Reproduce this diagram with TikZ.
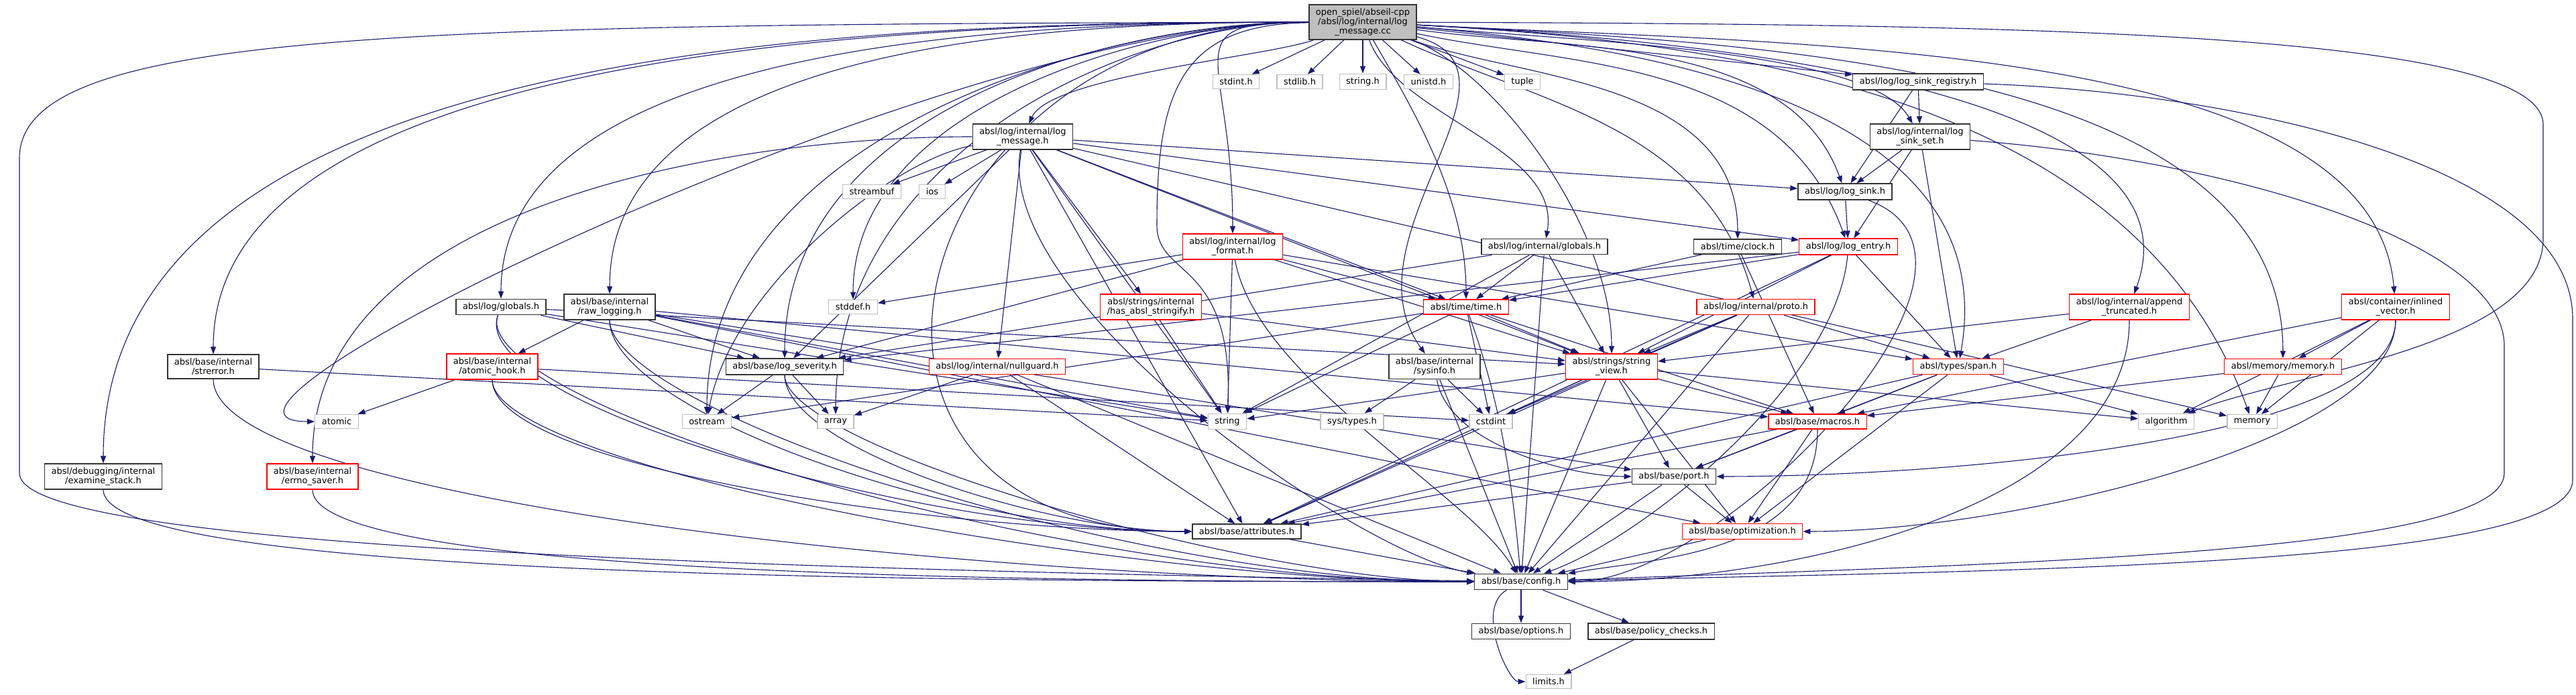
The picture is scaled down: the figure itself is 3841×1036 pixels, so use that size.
\documentclass[tikz,border=0pt]{standalone}
\usepackage{fontspec}
\setmainfont{DejaVu Sans}
\usepackage{tikz}
\usetikzlibrary{arrows.meta,backgrounds}
\definecolor{edgeblue}{HTML}{191970}
\definecolor{sysgray}{HTML}{BFBFBF}

\begin{document}
\begin{tikzpicture}[x=1pt, y=1pt,
  every node/.style={font=\fontsize{13}{14}\selectfont},
  box/.style={draw, line width=1.3pt, inner xsep=10pt, inner ysep=5.5pt, align=center, fill=white},
  hdr/.style={box, draw=black!80},
  trunc/.style={box, draw=red},
  sys/.style={box, draw=sysgray},
  cur/.style={box, draw=black!80, fill=sysgray},
  dep/.style={draw=edgeblue, line width=1.1pt, -{Triangle[length=11pt,width=8pt]}}]
  \useasboundingbox (0,0) rectangle (3841,1036);
  % the file and its direct includes
  \node[cur] (root) at (2032,1003) {open\_spiel/abseil-cpp\\/absl/log/internal/log\\\_message.cc};
  \node[sys] (stdint) at (1843,914) {stdint.h};
  \node[sys] (stdlib) at (1938,914) {stdlib.h};
  \node[sys] (stringh) at (2032,914) {string.h};
  \node[sys] (unistd) at (2130,914) {unistd.h};
  \node[sys] (tuple) at (2270,914) {tuple};
  \node[hdr] (sinkreg) at (2860,914) {absl/log/log\_sink\_registry.h};
  \node[hdr] (logmsg) at (1525,832) {absl/log/internal/log\\\_message.h};
  \node[hdr] (sinkset) at (2863,832) {absl/log/internal/log\\\_sink\_set.h};
  \node[sys] (streambuf) at (1300,750) {streambuf};
  \node[sys] (ios) at (1390,750) {ios};
  \node[hdr] (logsink) at (2751,750) {absl/log/log\_sink.h};
  \node[trunc] (logfmt) at (1838,668) {absl/log/internal/log\\\_format.h};
  \node[hdr] (iglobals) at (2303,668) {absl/log/internal/globals.h};
  \node[hdr] (clock) at (2591,668) {absl/time/clock.h};
  \node[trunc] (logentry) at (2756,668) {absl/log/log\_entry.h};
  \node[hdr] (lglobals) at (747,578) {absl/log/globals.h};
  \node[hdr] (rawlog) at (909,578) {absl/base/internal\\/raw\_logging.h};
  \node[sys] (stddef) at (1272,578) {stddef.h};
  \node[trunc] (stringify) at (1716,578) {absl/strings/internal\\/has\_absl\_stringify.h};
  \node[trunc] (timeh) at (2186,578) {absl/time/time.h};
  \node[trunc] (proto) at (2618,578) {absl/log/internal/proto.h};
  \node[trunc] (appendtr) at (3175,578) {absl/log/internal/append\\\_truncated.h};
  \node[trunc] (inlvec) at (3572,578) {absl/container/inlined\\\_vector.h};
  \node[hdr] (strerror) at (318,489) {absl/base/internal\\/strerror.h};
  \node[trunc] (atomichook) at (734,489) {absl/base/internal\\/atomic\_hook.h};
  \node[hdr] (severity) at (1170,489) {absl/base/log\_severity.h};
  \node[trunc] (nullguard) at (1487,489) {absl/log/internal/nullguard.h};
  \node[hdr] (sysinfo) at (2139,489) {absl/base/internal\\/sysinfo.h};
  \node[trunc] (strview) at (2403,489) {absl/strings/string\\\_view.h};
  \node[trunc] (span) at (2920,489) {absl/types/span.h};
  \node[trunc] (memoryh) at (3404,489) {absl/memory/memory.h};
  \node[sys] (atomic) at (502,407) {atomic};
  \node[sys] (ostream) at (1054,407) {ostream};
  \node[sys] (array) at (1246,407) {array};
  \node[sys] (string) at (1830,407) {string};
  \node[sys] (systypes) at (2016,407) {sys/types.h};
  \node[sys] (cstdint) at (2223,407) {cstdint};
  \node[trunc] (macros) at (2710,407) {absl/base/macros.h};
  \node[sys] (algorithm) at (3230,407) {algorithm};
  \node[sys] (memory) at (3358,407) {memory};
  \node[hdr] (examine) at (154,325) {absl/debugging/internal\\/examine\_stack.h};
  \node[trunc] (errnosaver) at (466,325) {absl/base/internal\\/errno\_saver.h};
  \node[hdr] (port) at (2496,325) {absl/base/port.h};
  \node[hdr] (attributes) at (1859,243) {absl/base/attributes.h};
  \node[trunc] (optimization) at (2598,243) {absl/base/optimization.h};
  \node[hdr] (config) at (2268,168) {absl/base/config.h};
  \node[hdr] (options) at (2268,94) {absl/base/options.h};
  \node[hdr] (policy) at (2462,94) {absl/base/policy\_checks.h};
  \node[sys] (limits) at (2309,19) {limits.h};

  \begin{scope}[on background layer]
  \fill[white] (0,0) rectangle (3841,1036);
  % includes of the file itself
  \draw[dep] (root) -- (stdint);
  \draw[dep] (root) -- (stdlib);
  \draw[dep] (root) -- (stringh);
  \draw[dep] (root) -- (unistd);
  \draw[dep] (root) -- (tuple);
  \draw[dep] (root) -- (sinkreg);
  \draw[dep] (root) .. controls +(200:150) and +(65:100) .. (logmsg);
  \draw[dep] (root) .. controls +(180:750) and +(90:650) .. (examine);
  \draw[dep] (root) .. controls +(180:670) and +(90:480) .. (strerror);
  \draw[dep] (root) .. controls +(180:620) and +(180:300) .. (atomic);
  \draw[dep] (root) .. controls +(180:500) and +(90:400) .. (lglobals);
  \draw[dep] (root) .. controls +(180:440) and +(90:400) .. (rawlog);
  \draw[dep] (root) .. controls +(180:380) and +(90:380) .. (severity);
  \draw[dep] (root) .. controls +(180:410) and +(90:420) .. (ostream);
  \draw[dep] (root) .. controls +(180:350) and +(90:400) .. (array);
  \draw[dep] (root) .. controls +(180:320) and +(90:300) .. (stddef);
  \draw[dep] (root) .. controls +(180:700) and +(180:700) .. (attributes);
  \draw[dep] (root) .. controls +(180:290) and +(90:290) .. (logfmt);
  \draw[dep] (root) .. controls (1760,1000) and (1725,900) .. (1725,700) .. controls (1725,620) and (1840,650) .. (string);
  \draw[dep] (root) .. controls (600,1000) and (29,990) .. (29,800) -- (29,330) .. controls (29,230) and (900,190) .. (config);
  \draw[dep] (root) .. controls (2300,930) and (2000,680) .. (sysinfo);
  \draw[dep] (root) .. controls +(-60:160) and +(90:160) .. (timeh);
  \draw[dep] (root) .. controls +(-70:150) and +(80:150) .. (iglobals);
  \draw[dep] (root) .. controls +(-20:210) and +(90:210) .. (strview);
  \draw[dep] (root) .. controls +(-20:250) and +(90:250) .. (clock);
  \draw[dep] (root) .. controls +(-25:280) and +(105:280) .. (proto);
  \draw[dep] (root) .. controls +(-12:320) and +(110:300) .. (logentry);
  \draw[dep] (root) .. controls +(-8:300) and +(110:250) .. (logsink);
  \draw[dep] (root) .. controls +(-5:330) and +(120:150) .. (sinkset);
  \draw[dep] (root) .. controls +(-5:420) and +(80:400) .. (span);
  \draw[dep] (root) .. controls +(-3:500) and +(70:350) .. (appendtr);
  \draw[dep] (root) .. controls +(-3:600) and +(110:500) .. (memory);
  \draw[dep] (root) .. controls +(-3:600) and +(90:450) .. (memoryh);
  \draw[dep] (root) .. controls +(-3:650) and +(95:400) .. (inlvec);
  \draw[dep] (root) .. controls (3000,1000) and (3792,990) .. (3792,850) -- (3792,680) .. controls (3792,520) and (3420,480) .. (algorithm);
  % log_message.h
  \draw[dep] (logmsg) -- (streambuf);
  \draw[dep] (logmsg) -- (ios);
  \draw[dep] (logmsg) .. controls +(190:200) and +(80:200) .. (ostream);
  \draw[dep] (logmsg) -- (string);
  \draw[dep] (logmsg) -- (memory);
  \draw[dep] (logmsg) -- (attributes);
  \draw[dep] (logmsg) .. controls +(180:450) and +(90:400) .. (errnosaver);
  \draw[dep] (logmsg) -- (severity);
  \draw[dep] (logmsg) -- (nullguard);
  \draw[dep] (logmsg) -- (logentry);
  \draw[dep] (logmsg) -- (logsink);
  \draw[dep] (logmsg) -- (stringify);
  \draw[dep] (logmsg) -- (strview);
  \draw[dep] (logmsg) -- (timeh);
  \draw[dep] (logmsg) .. controls +(-100:250) and +(170:250) .. (config);
  % sinks
  \draw[dep] (sinkreg) -- (logsink);
  \draw[dep] (sinkreg) -- (sinkset);
  \draw[dep] (sinkreg) .. controls (3300,900) and (3836,800) .. (3836,560) -- (3836,320) .. controls (3836,190) and (3000,185) .. (config);
  \draw[dep] (sinkset) -- (logsink);
  \draw[dep] (sinkset) -- (logentry);
  \draw[dep] (sinkset) -- (span);
  \draw[dep] (sinkset) .. controls (3300,800) and (3734,680) .. (3734,520) -- (3734,330) .. controls (3734,210) and (3000,195) .. (config);
  \draw[dep] (logsink) -- (logentry);
  \draw[dep] (logsink) .. controls +(-20:300) and +(0:300) .. (config);
  \draw[dep] (logentry) -- (timeh);
  \draw[dep] (logentry) -- (strview);
  \draw[dep] (logentry) -- (span);
  \draw[dep] (logentry) -- (severity);
  \draw[dep] (logentry) -- (attributes);
  \draw[dep] (logentry) .. controls +(-95:200) and +(20:200) .. (config);
  % log internals
  \draw[dep] (logfmt) -- (stddef);
  \draw[dep] (logfmt) -- (string);
  \draw[dep] (logfmt) -- (severity);
  \draw[dep] (logfmt) -- (strview);
  \draw[dep] (logfmt) -- (timeh);
  \draw[dep] (logfmt) -- (span);
  \draw[dep] (logfmt) .. controls +(-80:200) and +(120:150) .. (config);
  \draw[dep] (iglobals) -- (string);
  \draw[dep] (iglobals) -- (severity);
  \draw[dep] (iglobals) -- (strview);
  \draw[dep] (iglobals) -- (timeh);
  \draw[dep] (iglobals) -- (config);
  \draw[dep] (clock) -- (timeh);
  \draw[dep] (clock) -- (macros);
  \draw[dep] (timeh) -- (string);
  \draw[dep] (timeh) -- (cstdint);
  \draw[dep] (timeh) -- (ostream);
  \draw[dep] (timeh) -- (strview);
  \draw[dep] (timeh) -- (macros);
  \draw[dep] (timeh) .. controls +(-70:150) and +(95:150) .. (config);
  \draw[dep] (lglobals) -- (string);
  \draw[dep] (lglobals) -- (severity);
  \draw[dep] (lglobals) -- (strview);
  \draw[dep] (lglobals) .. controls +(-110:150) and +(180:500) .. (attributes);
  \draw[dep] (lglobals) .. controls +(-110:150) and +(180:700) .. (config);
  \draw[dep] (rawlog) -- (atomichook);
  \draw[dep] (rawlog) -- (string);
  \draw[dep] (rawlog) -- (severity);
  \draw[dep] (rawlog) -- (macros);
  \draw[dep] (rawlog) -- (optimization);
  \draw[dep] (rawlog) -- (port);
  \draw[dep] (rawlog) .. controls +(-90:150) and +(180:450) .. (attributes);
  \draw[dep] (rawlog) .. controls +(-90:150) and +(180:600) .. (config);
  \draw[dep] (strerror) -- (string);
  \draw[dep] (strerror) .. controls +(-90:200) and +(180:800) .. (config);
  \draw[dep] (examine) .. controls +(-90:150) and +(180:900) .. (config);
  \draw[dep] (errnosaver) .. controls +(-90:150) and +(180:700) .. (config);
  \draw[dep] (atomichook) -- (atomic);
  \draw[dep] (atomichook) -- (cstdint);
  \draw[dep] (atomichook) .. controls +(-90:150) and +(180:450) .. (attributes);
  \draw[dep] (atomichook) .. controls +(-90:150) and +(180:600) .. (config);
  \draw[dep] (severity) -- (array);
  \draw[dep] (severity) -- (ostream);
  \draw[dep] (severity) .. controls +(-90:120) and +(180:300) .. (attributes);
  \draw[dep] (severity) .. controls +(-90:120) and +(180:400) .. (config);
  \draw[dep] (nullguard) -- (array);
  \draw[dep] (nullguard) -- (attributes);
  \draw[dep] (nullguard) -- (config);
  \draw[dep] (stringify) -- (string);
  \draw[dep] (stringify) -- (strview);
  \draw[dep] (proto) -- (strview);
  \draw[dep] (proto) -- (span);
  \draw[dep] (proto) -- (cstdint);
  \draw[dep] (proto) -- (attributes);
  \draw[dep] (proto) -- (config);
  \draw[dep] (appendtr) -- (strview);
  \draw[dep] (appendtr) -- (span);
  \draw[dep] (appendtr) .. controls +(-90:300) and +(0:400) .. (config);
  \draw[dep] (inlvec) -- (algorithm);
  \draw[dep] (inlvec) -- (memory);
  \draw[dep] (inlvec) -- (memoryh);
  \draw[dep] (inlvec) -- (macros);
  \draw[dep] (inlvec) .. controls +(-90:200) and +(0:400) .. (port);
  \draw[dep] (inlvec) .. controls +(-90:200) and +(0:400) .. (optimization);
  \draw[dep] (memoryh) -- (memory);
  \draw[dep] (memoryh) -- (macros);
  % base headers
  \draw[dep] (span) -- (algorithm);
  \draw[dep] (span) -- (macros);
  \draw[dep] (span) -- (port);
  \draw[dep] (span) -- (optimization);
  \draw[dep] (span) -- (attributes);
  \draw[dep] (sysinfo) -- (systypes);
  \draw[dep] (sysinfo) -- (cstdint);
  \draw[dep] (sysinfo) -- (config);
  \draw[dep] (sysinfo) .. controls +(-80:120) and +(180:150) .. (port);
  \draw[dep] (strview) -- (algorithm);
  \draw[dep] (strview) -- (string);
  \draw[dep] (strview) -- (cstdint);
  \draw[dep] (strview) -- (macros);
  \draw[dep] (strview) -- (port);
  \draw[dep] (strview) -- (optimization);
  \draw[dep] (strview) -- (attributes);
  \draw[dep] (strview) -- (config);
  \draw[dep] (macros) -- (port);
  \draw[dep] (macros) -- (optimization);
  \draw[dep] (macros) -- (attributes);
  \draw[dep] (macros) .. controls +(-90:200) and +(10:200) .. (config);
  \draw[dep] (port) -- (optimization);
  \draw[dep] (port) -- (attributes);
  \draw[dep] (port) -- (config);
  \draw[dep] (optimization) -- (config);
  \draw[dep] (attributes) -- (config);
  \draw[dep] (config) -- (options);
  \draw[dep] (config) -- (policy);
  \draw[dep] (config) .. controls +(-150:80) and +(180:60) .. (limits);
  \draw[dep] (policy) -- (limits);
  \end{scope}
\end{tikzpicture}
\end{document}
